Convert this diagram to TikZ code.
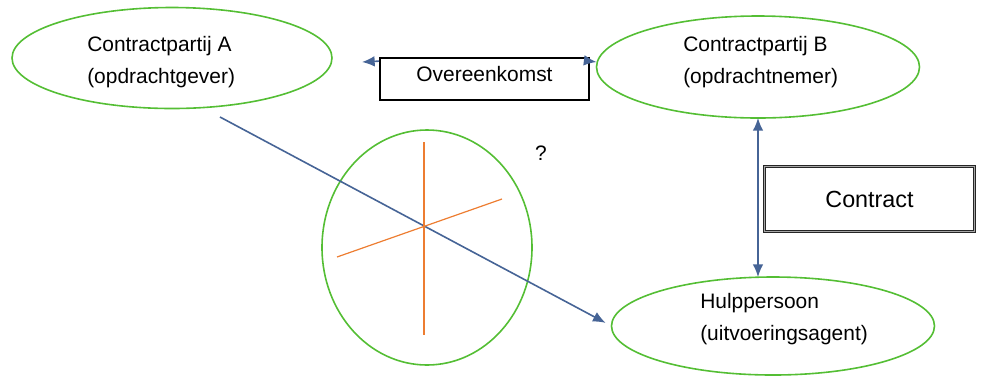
\documentclass[tikz,border=0pt]{standalone}
\usepackage{fontspec}
\setmainfont{Liberation Sans}
\usetikzlibrary{arrows.meta,shapes.geometric,positioning}

\definecolor{ringgreen}{RGB}{84,190,52}
\definecolor{linkblue}{RGB}{70,100,150}
\definecolor{crossorange}{RGB}{237,125,49}

\tikzset{
  party/.style={ellipse,draw=ringgreen,line width=1.2pt,inner sep=0pt,outer sep=0pt},
  partytext/.style={align=left,inner sep=0pt,anchor=west,font=\fontsize{15.7}{23.5}\selectfont},
  link/.style={draw=linkblue,line width=1.2pt},
  deal/.style={draw=black,line width=1.3pt,inner sep=0pt,font=\fontsize{15.7}{19}\selectfont}
}

\begin{document}
\begin{tikzpicture}[x=0.75pt,y=-0.75pt,>={Latex[length=9.5pt,width=8pt]}]
  \useasboundingbox (0,0) rectangle (981,376);
  \node[party,minimum width=240pt,minimum height=75.75pt] (partyA) at (172,58) {};
  \node[party,minimum width=242.25pt,minimum height=76.5pt] (partyB) at (758,67) {};
  \node[party,minimum width=242.25pt,minimum height=73.5pt] (hulp) at (773,326) {};
  \node[party,minimum width=157.5pt,minimum height=176.25pt] (ring) at (427,247.5) {};
  \node[partytext] (labelA) at (87,62) {Contractpartij A\\(opdrachtgever)};
  \node[partytext] (labelB) at (683,62) {Contractpartij B\\(opdrachtnemer)};
  \node[partytext] (labelH) at (700,319) {Hulppersoon\\(uitvoeringsagent)};
  \node[deal,minimum width=156.75pt,minimum height=31.5pt,text height=11pt,text depth=8pt] (overeen) at (484.5,79) {Overeenkomst};
  \node[draw=black!85,double=black!35,double distance=0.9pt,line width=0.7pt,
        minimum width=157pt,minimum height=48.5pt,font=\fontsize{17.5}{21}\selectfont] (contract) at (869.5,199) {Contract};
  \node[font=\fontsize{15.7}{19}\selectfont] (vraag) at (541,153) {?};
  \coordinate (leftend) at (362,62);
  \coordinate (diagstart) at (220,117);
  \draw[link,->] ([yshift=-3pt]overeen.north west) -- (leftend);
  \draw[link,->] ([yshift=-3pt]overeen.north east) -- (partyB.west |- leftend);
  \draw[link,<->] (partyB.south) -- (partyB.south |- hulp.north);
  \draw[link,->,shorten >=5pt] (diagstart) -- (hulp.west);
  \draw[crossorange,line width=0.9pt] (424,142) -- (424,335);
  \draw[crossorange,line width=0.9pt] (337,257) -- (502,199);
\end{tikzpicture}
\end{document}
